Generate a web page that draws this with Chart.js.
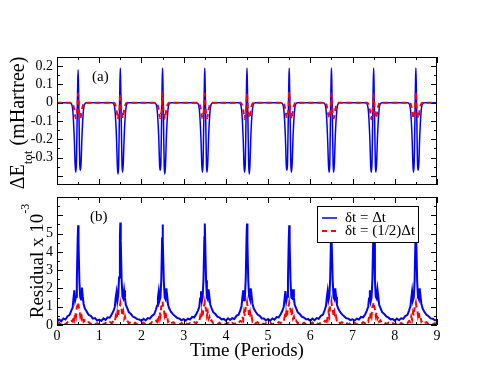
<!DOCTYPE html>
<html>
<head>
<meta charset="utf-8">
<script src="https://cdn.jsdelivr.net/npm/chart.js@4.4.1/dist/chart.umd.min.js"></script>
<style>
  html, body { margin: 0; padding: 0; background: #fff; }
  #wrap { position: relative; width: 495px; height: 383px; }
  canvas { position: absolute; left: 0; top: 0; }
</style>
</head>
<body>
<div id="wrap">
  <canvas id="topChart" width="495" height="383"></canvas>
  <canvas id="bottomChart" width="495" height="383"></canvas>
</div>
<script>
const SERIF = '"Liberation Serif", "Times New Roman", serif';

// ---- data ----
const periodStarts = [0, 1, 2, 3, 4, 5, 6, 7, 8];
const timeEnd = 9;

// panel (a): energy deviation, sampled at these offsets inside each period
const topOffsets = [0, 0.30, 0.35, 0.38, 0.41, 0.43, 0.445, 0.46, 0.475, 0.49, 0.5, 0.51, 0.525, 0.54, 0.555, 0.57, 0.59, 0.62, 0.65, 0.70];
const energyFull = [
  [0, 0, -0.01, -0.06, -0.20, -0.34, -0.38, -0.33, -0.12, 0.10, 0.18, 0.08, -0.14, -0.34, -0.37, -0.33, -0.19, -0.06, -0.01, 0],
  [0, 0, -0.01, -0.06, -0.20, -0.35, -0.39, -0.34, -0.12, 0.11, 0.19, 0.08, -0.14, -0.34, -0.38, -0.33, -0.19, -0.06, -0.01, 0],
  [0, 0, -0.01, -0.06, -0.19, -0.34, -0.37, -0.33, -0.13, 0.10, 0.19, 0.09, -0.14, -0.35, -0.39, -0.34, -0.19, -0.06, -0.01, 0],
  [0, 0, -0.01, -0.06, -0.20, -0.34, -0.38, -0.33, -0.12, 0.10, 0.19, 0.08, -0.13, -0.34, -0.38, -0.33, -0.19, -0.06, -0.01, 0],
  [0, 0, -0.01, -0.06, -0.20, -0.35, -0.38, -0.33, -0.12, 0.11, 0.19, 0.08, -0.14, -0.34, -0.39, -0.34, -0.19, -0.06, -0.01, 0],
  [0, 0, -0.01, -0.06, -0.19, -0.34, -0.37, -0.33, -0.12, 0.10, 0.19, 0.08, -0.14, -0.35, -0.38, -0.33, -0.19, -0.06, -0.01, 0],
  [0, 0, -0.01, -0.06, -0.20, -0.34, -0.38, -0.34, -0.12, 0.10, 0.19, 0.09, -0.14, -0.34, -0.38, -0.33, -0.19, -0.06, -0.01, 0],
  [0, 0, -0.01, -0.06, -0.20, -0.35, -0.38, -0.33, -0.12, 0.11, 0.19, 0.08, -0.13, -0.34, -0.38, -0.33, -0.19, -0.06, -0.01, 0],
  [0, 0, -0.01, -0.06, -0.19, -0.34, -0.38, -0.33, -0.12, 0.10, 0.19, 0.08, -0.14, -0.34, -0.37, -0.33, -0.19, -0.06, -0.01, 0]
];
const energyHalf = [
  [0, 0, 0, -0.01, -0.04, -0.07, -0.085, -0.06, -0.05, 0.01, 0.05, 0.01, -0.05, -0.065, -0.085, -0.07, -0.04, -0.01, 0, 0],
  [0, 0, 0, -0.01, -0.04, -0.07, -0.09, -0.06, -0.05, 0.01, 0.05, 0.01, -0.05, -0.065, -0.085, -0.07, -0.04, -0.01, 0, 0],
  [0, 0, 0, -0.01, -0.04, -0.07, -0.085, -0.06, -0.05, 0.01, 0.06, 0.01, -0.05, -0.065, -0.09, -0.07, -0.04, -0.01, 0, 0],
  [0, 0, 0, -0.01, -0.04, -0.07, -0.085, -0.06, -0.05, 0.01, 0.05, 0.01, -0.05, -0.065, -0.085, -0.07, -0.04, -0.01, 0, 0],
  [0, 0, 0, -0.01, -0.04, -0.07, -0.09, -0.06, -0.05, 0.01, 0.05, 0.01, -0.05, -0.065, -0.085, -0.07, -0.04, -0.01, 0, 0],
  [0, 0, 0, -0.01, -0.04, -0.07, -0.085, -0.06, -0.05, 0.01, 0.06, 0.01, -0.05, -0.065, -0.09, -0.07, -0.04, -0.01, 0, 0],
  [0, 0, 0, -0.01, -0.04, -0.07, -0.085, -0.06, -0.05, 0.01, 0.05, 0.01, -0.05, -0.065, -0.085, -0.07, -0.04, -0.01, 0, 0],
  [0, 0, 0, -0.01, -0.04, -0.07, -0.09, -0.06, -0.05, 0.01, 0.05, 0.01, -0.05, -0.065, -0.085, -0.07, -0.04, -0.01, 0, 0],
  [0, 0, 0, -0.01, -0.04, -0.07, -0.085, -0.06, -0.05, 0.01, 0.06, 0.01, -0.05, -0.065, -0.085, -0.07, -0.04, -0.01, 0, 0]
];
const energyFullEnd = 0;
const energyHalfEnd = 0;

// panel (b): residual x 1e-3
const botOffsets = [0, 0.05, 0.1, 0.15, 0.2, 0.25, 0.3, 0.34, 0.37, 0.39, 0.41, 0.43, 0.45, 0.47, 0.49, 0.5, 0.51, 0.53, 0.55, 0.57, 0.59, 0.61, 0.63, 0.66, 0.7, 0.75, 0.8, 0.85, 0.9, 0.95];
const residualFull = [
  [0.15, 0.3, 0.2, 0.36, 0.3, 0.48, 0.55, 0.8, 0.95, 1.45, 1.9, 1.35, 1.55, 2.5, 4.7, 5.45, 4.5, 2.4, 1.5, 1.4, 2.05, 1.55, 1.15, 0.9, 0.75, 0.55, 0.5, 0.35, 0.38, 0.25],
  [0.3, 0.22, 0.36, 0.28, 0.42, 0.4, 0.6, 0.78, 1.0, 1.5, 1.8, 1.3, 1.6, 2.6, 4.9, 5.6, 4.6, 2.5, 1.55, 1.45, 1.9, 1.5, 1.1, 0.95, 0.7, 0.6, 0.45, 0.4, 0.32, 0.3],
  [0.22, 0.34, 0.25, 0.38, 0.35, 0.5, 0.58, 0.82, 1.05, 1.5, 1.85, 1.35, 1.5, 2.5, 4.8, 5.5, 4.6, 2.4, 1.5, 1.4, 2.0, 1.6, 1.1, 0.9, 0.72, 0.58, 0.48, 0.38, 0.35, 0.26],
  [0.32, 0.24, 0.35, 0.3, 0.44, 0.42, 0.6, 0.8, 1.0, 1.45, 1.85, 1.3, 1.55, 2.5, 4.8, 5.55, 4.6, 2.45, 1.5, 1.4, 1.95, 1.55, 1.1, 0.92, 0.7, 0.6, 0.46, 0.4, 0.3, 0.33],
  [0.24, 0.36, 0.27, 0.37, 0.33, 0.5, 0.56, 0.8, 1.02, 1.5, 1.9, 1.35, 1.5, 2.55, 4.85, 5.55, 4.55, 2.4, 1.55, 1.4, 2.0, 1.6, 1.15, 0.9, 0.74, 0.57, 0.5, 0.36, 0.36, 0.25],
  [0.33, 0.23, 0.36, 0.29, 0.43, 0.41, 0.6, 0.78, 1.0, 1.45, 1.85, 1.3, 1.55, 2.5, 4.75, 5.45, 4.5, 2.45, 1.5, 1.45, 1.95, 1.5, 1.1, 0.94, 0.7, 0.6, 0.46, 0.4, 0.31, 0.32],
  [0.23, 0.35, 0.26, 0.38, 0.34, 0.5, 0.57, 0.82, 1.04, 1.5, 1.85, 1.35, 1.55, 2.55, 4.9, 5.55, 4.6, 2.4, 1.5, 1.4, 2.0, 1.55, 1.1, 0.9, 0.73, 0.58, 0.48, 0.37, 0.35, 0.27],
  [0.31, 0.24, 0.35, 0.3, 0.44, 0.42, 0.59, 0.8, 1.0, 1.45, 1.9, 1.3, 1.5, 2.5, 4.8, 5.5, 4.55, 2.45, 1.55, 1.45, 1.95, 1.55, 1.1, 0.93, 0.7, 0.6, 0.47, 0.4, 0.31, 0.33],
  [0.24, 0.35, 0.26, 0.37, 0.34, 0.49, 0.56, 0.8, 1.02, 1.45, 1.85, 1.35, 1.5, 2.45, 4.7, 5.4, 4.5, 2.4, 1.5, 1.4, 2.0, 1.55, 1.15, 0.9, 0.72, 0.56, 0.48, 0.36, 0.34, 0.26]
];
const residualHalf = [
  [0.05, 0.12, 0.02, 0.1, 0.04, 0.15, 0.1, 0.22, 0.18, 0.45, 0.3, 0.7, 0.5, 1.0, 1.1, 1.25, 1.05, 0.85, 0.5, 0.7, 0.35, 0.45, 0.18, 0.25, 0.1, 0.15, 0.05, 0.12, 0.03, 0.1],
  [0.04, 0.13, 0.03, 0.11, 0.05, 0.16, 0.1, 0.24, 0.18, 0.46, 0.3, 0.68, 0.5, 1.0, 1.05, 1.2, 1.05, 0.85, 0.5, 0.72, 0.35, 0.46, 0.2, 0.25, 0.1, 0.16, 0.05, 0.12, 0.04, 0.1],
  [0.05, 0.12, 0.02, 0.12, 0.04, 0.15, 0.11, 0.22, 0.17, 0.48, 0.32, 0.7, 0.5, 1.02, 1.12, 1.28, 1.08, 0.85, 0.52, 0.7, 0.36, 0.45, 0.18, 0.26, 0.1, 0.15, 0.06, 0.12, 0.03, 0.1],
  [0.04, 0.13, 0.03, 0.1, 0.05, 0.15, 0.1, 0.23, 0.18, 0.45, 0.3, 0.7, 0.5, 1.0, 1.1, 1.25, 1.05, 0.85, 0.5, 0.7, 0.35, 0.45, 0.18, 0.25, 0.1, 0.15, 0.05, 0.12, 0.03, 0.1],
  [0.05, 0.12, 0.02, 0.11, 0.04, 0.16, 0.1, 0.22, 0.18, 0.46, 0.3, 0.7, 0.5, 1.0, 1.1, 1.25, 1.05, 0.85, 0.5, 0.7, 0.35, 0.45, 0.19, 0.25, 0.1, 0.15, 0.05, 0.12, 0.04, 0.1],
  [0.04, 0.12, 0.03, 0.1, 0.05, 0.15, 0.11, 0.22, 0.18, 0.45, 0.31, 0.7, 0.5, 1.0, 1.08, 1.22, 1.05, 0.85, 0.5, 0.7, 0.35, 0.45, 0.18, 0.25, 0.1, 0.16, 0.05, 0.12, 0.03, 0.1],
  [0.05, 0.13, 0.02, 0.11, 0.04, 0.15, 0.1, 0.22, 0.18, 0.47, 0.3, 0.7, 0.5, 1.0, 1.12, 1.27, 1.06, 0.86, 0.5, 0.7, 0.35, 0.45, 0.18, 0.25, 0.1, 0.15, 0.05, 0.12, 0.03, 0.1],
  [0.04, 0.12, 0.03, 0.1, 0.05, 0.15, 0.1, 0.23, 0.18, 0.45, 0.3, 0.7, 0.5, 1.0, 1.1, 1.25, 1.05, 0.85, 0.5, 0.7, 0.35, 0.45, 0.18, 0.25, 0.1, 0.15, 0.05, 0.12, 0.04, 0.1],
  [0.05, 0.12, 0.02, 0.11, 0.04, 0.15, 0.1, 0.22, 0.17, 0.45, 0.3, 0.68, 0.5, 0.98, 1.08, 1.2, 1.02, 0.85, 0.5, 0.7, 0.35, 0.45, 0.18, 0.25, 0.1, 0.15, 0.05, 0.12, 0.03, 0.1]
];
const residualFullEnd = 0.28;
const residualHalfEnd = 0.05;

// ticks
const xLabels = [0, 1, 2, 3, 4, 5, 6, 7, 8, 9];
const xMinor = [0.5, 1.5, 2.5, 3.5, 4.5, 5.5, 6.5, 7.5, 8.5];
const topYLabels = [0.2, 0.1, 0, -0.1, -0.2, -0.3];
const topYMajor = [0.2, 0.1, 0, -0.1, -0.2, -0.3, -0.4];
const topYMinor = [0.15, 0.05, -0.05, -0.15, -0.25, -0.35];
const botYLabels = [0, 1, 2, 3, 4, 5];
const botYMajor = [0, 1, 2, 3, 4, 5, 6, 7];
const botYMinor = [0.5, 1.5, 2.5, 3.5, 4.5, 5.5, 6.5];

const legendLabels = ['\u03B4t = \u0394t', '\u03B4t = (1/2)\u0394t'];

// turn the per-period rows into {x, y} points
function buildSeries(offsets, rows, endValue) {
  const pts = [];
  rows.forEach((row, k) => {
    row.forEach((y, i) => pts.push({ x: periodStarts[k] + offsets[i], y: y }));
  });
  pts.push({ x: timeEnd, y: endValue });
  return pts;
}

// frame + inward ticks on all four sides, plus the texts
function makeDecor(cfg) {
  return {
    id: 'decor',
    afterDraw(chart) {
      const ctx = chart.ctx;
      const a = chart.chartArea;
      const xs = chart.scales.x, ys = chart.scales.y;
      ctx.save();
      ctx.strokeStyle = '#000';
      ctx.lineWidth = 1;
      ctx.strokeRect(a.left + 0.5, a.top + 0.5, a.right - a.left - 1, a.bottom - a.top - 1);

      ctx.beginPath();
      const xt = (vals, len) => vals.forEach(v => {
        const p = Math.round(xs.getPixelForValue(v)) + 0.5;
        ctx.moveTo(p, a.bottom); ctx.lineTo(p, a.bottom - len);
        ctx.moveTo(p, a.top); ctx.lineTo(p, a.top + len);
      });
      const yt = (vals, len) => vals.forEach(v => {
        const p = Math.round(ys.getPixelForValue(v)) + 0.5;
        ctx.moveTo(a.left, p); ctx.lineTo(a.left + len, p);
        ctx.moveTo(a.right, p); ctx.lineTo(a.right - len, p);
      });
      xt(xLabels, 6); xt(xMinor, 3);
      yt(cfg.yMajor, 6); yt(cfg.yMinor, 3);
      ctx.stroke();

      ctx.fillStyle = '#000';
      ctx.textBaseline = 'alphabetic';
      ctx.textAlign = 'left';
      ctx.font = '15px ' + SERIF;
      ctx.fillText(cfg.panel, cfg.panelX, cfg.panelY);

      cfg.extra(ctx, a);
      ctx.restore();
    }
  };
}

function rotatedTitle(ctx, cx, cy, parts) {
  ctx.save();
  ctx.translate(cx, cy);
  ctx.rotate(-Math.PI / 2);
  let total = 0;
  parts.forEach(p => { ctx.font = p.size + 'px ' + SERIF; p.w = ctx.measureText(p.text).width; total += p.w; });
  let x = -total / 2;
  parts.forEach(p => {
    ctx.font = p.size + 'px ' + SERIF;
    ctx.fillText(p.text, x, p.dy);
    x += p.w;
  });
  ctx.restore();
}

const baseFont = { family: SERIF, size: 14 };

// ---- panel (a) ----
new Chart(document.getElementById('topChart'), {
  type: 'line',
  data: {
    datasets: [
      {
        label: legendLabels[0],
        data: buildSeries(topOffsets, energyFull, energyFullEnd),
        borderColor: '#0000ff',
        borderWidth: 1.5,
        pointRadius: 0,
        cubicInterpolationMode: 'monotone',
        order: 2
      },
      {
        label: legendLabels[1],
        data: buildSeries(topOffsets, energyHalf, energyHalfEnd),
        borderColor: '#ff0000',
        borderWidth: 2,
        borderDash: [5, 4],
        pointRadius: 0,
        cubicInterpolationMode: 'monotone',
        order: 1
      }
    ]
  },
  options: {
    responsive: false,
    animation: false,
    layout: { padding: { left: 0, right: 58, top: 57, bottom: 198 } },
    plugins: { legend: { display: false }, tooltip: { enabled: false } },
    scales: {
      x: { type: 'linear', min: 0, max: 9, display: false },
      y: {
        type: 'linear', min: -0.45, max: 0.25,
        grid: { display: false, drawTicks: false },
        border: { display: false },
        ticks: { font: baseFont, color: '#000', padding: 4, callback: v => String(v) },
        afterBuildTicks: s => { s.ticks = topYLabels.map(v => ({ value: v })); },
        afterFit: s => { s.width = 57; }
      }
    }
  },
  plugins: [makeDecor({
    yMajor: topYMajor, yMinor: topYMinor,
    panel: '(a)', panelX: 92, panelY: 81,
    extra: (ctx) => {
      rotatedTitle(ctx, 24, 123, [
        { text: '\u0394E', size: 20, dy: 0 },
        { text: 'tot', size: 13, dy: 8 },
        { text: ' (mHartree)', size: 20, dy: 0 }
      ]);
    }
  })]
});

// ---- panel (b) ----
new Chart(document.getElementById('bottomChart'), {
  type: 'line',
  data: {
    datasets: [
      {
        label: legendLabels[0],
        data: buildSeries(botOffsets, residualFull, residualFullEnd),
        borderColor: '#0000ff',
        borderWidth: 2,
        pointRadius: 0,
        tension: 0,
        order: 2
      },
      {
        label: legendLabels[1],
        data: buildSeries(botOffsets, residualHalf, residualHalfEnd),
        borderColor: '#ff0000',
        borderWidth: 2,
        borderDash: [5, 4],
        pointRadius: 0,
        tension: 0,
        order: 1
      }
    ]
  },
  options: {
    responsive: false,
    animation: false,
    layout: { padding: { left: 0, right: 58, top: 197, bottom: 0 } },
    plugins: { legend: { display: false }, tooltip: { enabled: false } },
    scales: {
      x: {
        type: 'linear', min: 0, max: 9,
        grid: { display: false, drawTicks: false },
        border: { display: false },
        ticks: { font: baseFont, color: '#000', padding: 3, maxRotation: 0, callback: v => String(v) },
        afterBuildTicks: s => { s.ticks = xLabels.map(v => ({ value: v })); },
        afterFit: s => { s.height = 58; }
      },
      y: {
        type: 'linear', min: 0, max: 7,
        grid: { display: false, drawTicks: false },
        border: { display: false },
        ticks: { font: baseFont, color: '#000', padding: 4, callback: v => String(v) },
        afterBuildTicks: s => { s.ticks = botYLabels.map(v => ({ value: v })); },
        afterFit: s => { s.width = 57; }
      }
    }
  },
  plugins: [makeDecor({
    yMajor: botYMajor, yMinor: botYMinor,
    panel: '(b)', panelX: 90, panelY: 221,
    extra: (ctx, a) => {
      rotatedTitle(ctx, 43, 261, [
        { text: 'Residual x 10', size: 19, dy: 0 },
        { text: '-3', size: 12, dy: -14 }
      ]);
      ctx.font = '19px ' + SERIF;
      ctx.textAlign = 'center';
      ctx.fillText('Time (Periods)', (a.left + a.right) / 2, 356);

      // legend box
      ctx.fillStyle = '#fff';
      ctx.fillRect(317, 206, 102, 37);
      ctx.strokeRect(317.5, 206.5, 101, 36);
      ctx.lineWidth = 1.5;
      ctx.strokeStyle = '#0000ff';
      ctx.beginPath(); ctx.moveTo(322, 218); ctx.lineTo(337, 218); ctx.stroke();
      ctx.lineWidth = 2;
      ctx.strokeStyle = '#ff0000';
      ctx.setLineDash([5, 4]);
      ctx.beginPath(); ctx.moveTo(322, 231); ctx.lineTo(337, 231); ctx.stroke();
      ctx.setLineDash([]);
      ctx.fillStyle = '#000';
      ctx.textAlign = 'left';
      ctx.textBaseline = 'middle';
      ctx.font = '15px ' + SERIF;
      ctx.fillText(legendLabels[0], 345, 218);
      ctx.fillText(legendLabels[1], 345, 231);
    }
  })]
});
</script>
</body>
</html>
